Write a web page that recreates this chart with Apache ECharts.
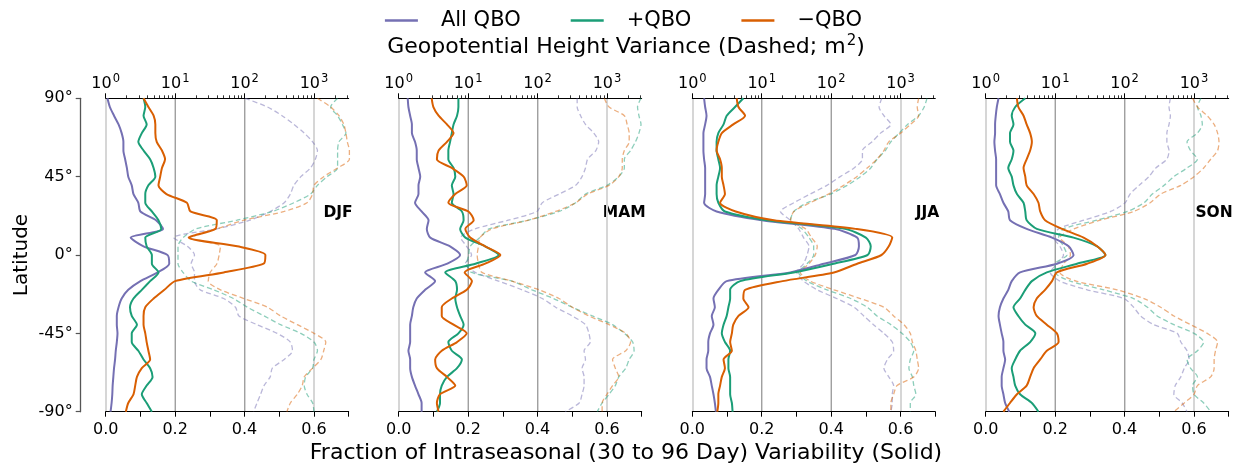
<!DOCTYPE html>
<html>
<head>
<meta charset="utf-8">
<script src="https://cdn.jsdelivr.net/npm/echarts@6/dist/echarts.min.js"></script>
<style>
  html, body { margin: 0; padding: 0; background: #ffffff; }
  #chart { width: 1247px; height: 469px; }
</style>
</head>
<body>
<div id="chart"></div>
<script>
// Latitude rows shared by every profile (degrees, north to south)
const latitudes = [90,85,80,75,70,65,60,55,50,45,40,35,30,25,20,15,10,5,0,-5,-10,-15,-20,-25,-30,-35,-40,-45,-50,-55,-60,-65,-70,-75,-80,-85,-90];
const seasons = ['DJF', 'MAM', 'JJA', 'SON'];
const groupNames = ['All QBO', '+QBO', '\u2212QBO'];
const groupColors = ['#7570b3', '#1b9e77', '#d95f02'];
const latTicks = [-90, -45, 0, 45, 90];
const varMajorTicks = [1, 10, 100, 1000];
const varMinorTicks = [2,3,4,5,6,7,8,9,20,30,40,50,60,70,80,90,200,300,400,500,600,700,800,900,2000,3000];

// Fraction of intraseasonal (30-96 day) variability (solid lines)
const djfAllFrac = [0.005,0.012,0.024,0.037,0.046,0.051,0.051,0.056,0.061,0.065,0.075,0.080,0.094,0.100,0.145,0.165,0.072,0.109,0.178,0.183,0.150,0.100,0.065,0.046,0.037,0.032,0.032,0.034,0.032,0.029,0.027,0.024,0.022,0.020,0.019,0.017,0.014];
const djfPosFrac = [0.109,0.114,0.109,0.118,0.104,0.094,0.109,0.128,0.138,0.143,0.123,0.114,0.114,0.133,0.152,0.160,0.114,0.118,0.133,0.133,0.152,0.128,0.104,0.080,0.070,0.075,0.090,0.075,0.075,0.094,0.109,0.128,0.135,0.118,0.104,0.118,0.133];
const djfNegFrac = [0.109,0.123,0.138,0.143,0.143,0.147,0.162,0.171,0.162,0.157,0.152,0.175,0.234,0.244,0.320,0.316,0.239,0.379,0.460,0.455,0.340,0.200,0.169,0.138,0.114,0.109,0.109,0.114,0.118,0.123,0.128,0.104,0.090,0.085,0.080,0.065,0.058];

const mamAllFrac = [0.026,0.028,0.033,0.038,0.038,0.047,0.052,0.052,0.057,0.062,0.057,0.057,0.047,0.066,0.086,0.081,0.091,0.148,0.177,0.140,0.076,0.105,0.076,0.052,0.042,0.038,0.033,0.033,0.033,0.028,0.033,0.033,0.038,0.047,0.057,0.066,0.066];
const mamPosFrac = [0.172,0.172,0.168,0.158,0.153,0.148,0.143,0.143,0.158,0.163,0.153,0.158,0.153,0.182,0.187,0.177,0.192,0.249,0.288,0.221,0.134,0.163,0.168,0.163,0.168,0.177,0.187,0.172,0.143,0.153,0.182,0.168,0.139,0.124,0.119,0.119,0.110];
const mamNegFrac = [0.095,0.100,0.115,0.139,0.158,0.139,0.115,0.110,0.153,0.187,0.196,0.163,0.143,0.201,0.216,0.192,0.206,0.249,0.293,0.249,0.190,0.211,0.196,0.153,0.124,0.124,0.158,0.196,0.168,0.124,0.105,0.110,0.139,0.163,0.119,0.110,0.115];

const jjaAllFrac = [0.034,0.037,0.041,0.037,0.032,0.032,0.032,0.034,0.037,0.037,0.037,0.037,0.034,0.070,0.200,0.410,0.475,0.480,0.470,0.379,0.282,0.099,0.075,0.061,0.065,0.056,0.061,0.051,0.046,0.046,0.041,0.041,0.051,0.056,0.061,0.065,0.068];
const jjaPosFrac = [0.147,0.123,0.099,0.090,0.075,0.070,0.070,0.075,0.080,0.075,0.070,0.070,0.075,0.094,0.215,0.440,0.500,0.514,0.505,0.407,0.292,0.138,0.109,0.109,0.104,0.099,0.090,0.085,0.094,0.109,0.104,0.104,0.109,0.109,0.109,0.114,0.116];
const jjaNegFrac = [0.128,0.133,0.152,0.118,0.085,0.075,0.070,0.080,0.085,0.085,0.090,0.094,0.080,0.125,0.235,0.470,0.576,0.566,0.545,0.475,0.408,0.260,0.152,0.147,0.162,0.133,0.118,0.114,0.109,0.114,0.090,0.094,0.085,0.080,0.075,0.075,0.072];

const sonAllFrac = [0.037,0.032,0.029,0.027,0.027,0.025,0.027,0.030,0.030,0.030,0.030,0.041,0.051,0.065,0.070,0.118,0.191,0.239,0.253,0.205,0.099,0.075,0.065,0.051,0.041,0.037,0.041,0.046,0.051,0.051,0.056,0.051,0.046,0.046,0.051,0.056,0.068];
const sonPosFrac = [0.114,0.085,0.075,0.080,0.070,0.070,0.080,0.075,0.065,0.075,0.080,0.090,0.109,0.114,0.118,0.147,0.253,0.321,0.345,0.263,0.176,0.133,0.114,0.099,0.080,0.094,0.114,0.143,0.128,0.099,0.085,0.075,0.080,0.085,0.099,0.133,0.152];
const sonNegFrac = [0.090,0.094,0.109,0.118,0.128,0.133,0.128,0.118,0.109,0.114,0.118,0.138,0.152,0.157,0.171,0.220,0.282,0.321,0.345,0.292,0.205,0.191,0.171,0.147,0.138,0.147,0.176,0.205,0.210,0.176,0.157,0.138,0.128,0.118,0.090,0.070,0.051];

// Geopotential height variance in m^2 (dashed lines, log axis)
const djfAllVar = [102,214,347,513,724,955,1122,1047,891,646,513,457,372,234,120,40,9.5,15,19,17,19,19,23,50,74,83,151,295,457,490,372,251,234,191,170,151,135];
const djfPosVar = [2188,1738,2188,2570,2884,2291,2188,2188,2188,1549,1122,891,513,251,78,20,13,11,11,11,13,17,36,69,110,191,331,646,1000,1122,1000,955,759,724,794,955,1000];
const djfNegVar = [1122,1738,2291,2692,2884,3020,3236,3236,2188,1380,1000,955,794,372,98,40,15.5,45,43,40,32,30,45,98,214,331,575,1000,1479,1380,1259,955,724,676,575,457,407];

const mamAllVar = [372,372,417,490,646,759,692,525,490,437,355,204,117,98,38,12.6,7.8,9.5,11.2,9.1,12.6,27.5,60,117,182,316,490,550,575,468,490,437,468,468,437,398,251];
const mamPosVar = [3090,2754,2884,3090,2884,2570,2188,1778,1778,1479,1000,490,355,204,74,20,14.8,10.7,10.2,9.5,11.2,42.7,83,170,316,617,1202,1778,2344,2455,2089,1862,1479,1318,1072,851,724];
const mamNegVar = [912,1072,1778,1950,2089,2089,1778,1660,1660,1479,1072,525,355,182,74,22,14.8,14.1,13.5,14.1,15.8,42.7,105,204,316,550,1072,1862,2188,1862,1202,1318,1479,1202,1000,851,851];

const jjaAllVar = [537,490,575,724,513,389,282,282,214,135,87,50,29,18.6,25.7,34,40,48,45,40,32,40,63,120,214,295,407,575,759,794,646,575,676,794,759,759,724];
const jjaPosVar = [2399,2188,1820,1259,955,724,603,457,372,263,170,98,45,29,26,38,48,56,56,45,34,45,87,191,331,457,724,1047,1380,1549,1380,1318,1479,1549,1660,1380,1380];
const jjaNegVar = [1820,1738,1820,1380,1000,676,575,457,331,234,151,91,50,29,26,43,52,63,59,48,36,50,110,263,575,794,1122,1380,1479,1660,1738,1820,1549,891,794,724,724];

const sonAllVar = [457,437,457,437,407,407,437,407,282,224,162,120,102,63,26,11.2,9.5,11.7,13.2,10.7,8.5,11.7,29,98,135,170,263,575,646,794,851,724,646,537,513,676,794];
const sonPosVar = [1259,1122,1259,1318,1122,794,891,1122,794,513,372,251,191,110,40,13.2,11.2,13.2,14.8,10,10,16.6,50,135,214,295,513,1000,1380,1122,794,891,1122,955,1000,1380,1738];
const sonNegVar = [955,1122,1549,1950,2188,2291,2188,1738,1380,1000,646,331,234,135,45,18.6,11.7,15.5,16.6,13.2,11.7,20,78,191,331,513,891,1549,2188,2042,1950,1950,1738,1122,1000,724,513];

const fracBySeason = [
  [djfAllFrac, djfPosFrac, djfNegFrac],
  [mamAllFrac, mamPosFrac, mamNegFrac],
  [jjaAllFrac, jjaPosFrac, jjaNegFrac],
  [sonAllFrac, sonPosFrac, sonNegFrac]
];
const varBySeason = [
  [djfAllVar, djfPosVar, djfNegVar],
  [mamAllVar, mamPosVar, mamNegVar],
  [jjaAllVar, jjaPosVar, jjaNegVar],
  [sonAllVar, sonPosVar, sonNegVar]
];

// ---- layout ----
const FONT = 'DejaVu Sans';
const panelLeft = [105.7, 398.7, 692.3, 985.7];
const panelTop = 98.3;
const panelWidth = 243;
const panelHeight = 313.4;
const varMax = Math.pow(10, 3.5);

const grids = [];
const xAxes = [];
const yAxes = [];
const series = [];
const graphics = [];

seasons.forEach((season, i) => {
  grids.push({ left: panelLeft[i], top: panelTop, width: panelWidth, height: panelHeight, containLabel: false });

  // bottom: linear fraction axis
  xAxes.push({
    type: 'value', gridIndex: i, position: 'bottom',
    min: 0, max: 0.7, interval: 0.1,
    axisLine: { show: true, onZero: false, lineStyle: { color: '#000', width: 1 } },
    axisTick: { show: true, length: 5, lineStyle: { color: '#000', width: 1 } },
    axisLabel: {
      fontFamily: FONT, fontSize: 16, color: '#000', margin: 10,
      formatter: v => (Math.round(v * 10) % 2 === 0 ? v.toFixed(1) : '')
    },
    splitLine: {
      show: true, showMaxLine: false,
      lineStyle: { color: ['#d6d6d6', 'rgba(0,0,0,0)'], width: 2 }
    }
  });

  // top: log variance axis with major ticks and labels
  xAxes.push({
    type: 'log', logBase: 10, gridIndex: i, position: 'top',
    min: 1, max: varMax,
    axisLine: { show: true, onZero: false, lineStyle: { color: '#000', width: 1 } },
    axisTick: { show: true, length: 5, customValues: varMajorTicks, lineStyle: { color: '#000', width: 1 } },
    axisLabel: {
      fontFamily: FONT, fontSize: 16, color: '#000', margin: 4,
      customValues: varMajorTicks,
      formatter: v => '{b|10}{e|' + Math.round(Math.log10(v)) + '}',
      rich: {
        b: { fontFamily: FONT, fontSize: 16, color: '#000' },
        e: { fontFamily: FONT, fontSize: 11.5, color: '#000', padding: [0, 0, 9, 1] }
      }
    },
    splitLine: { show: true, showMinLine: false, showMaxLine: false, lineStyle: { color: '#a0a0a0', width: 1 } }
  });

  // top: minor log ticks
  xAxes.push({
    type: 'log', logBase: 10, gridIndex: i, position: 'top',
    min: 1, max: varMax,
    axisLine: { show: false, onZero: false },
    axisTick: { show: true, length: 3, customValues: varMinorTicks, lineStyle: { color: '#000', width: 0.8 } },
    axisLabel: { show: false },
    splitLine: { show: false }
  });

  yAxes.push({
    type: 'value', gridIndex: i, min: -90, max: 90, interval: 45,
    show: i === 0, offset: 25,
    axisLine: { show: true, onZero: false, lineStyle: { color: '#555', width: 1.3 } },
    axisTick: { show: true, length: 5, lineStyle: { color: '#555', width: 1.2 } },
    axisLabel: {
      fontFamily: FONT, fontSize: 16, color: '#000', margin: 8,
      customValues: latTicks,
      formatter: v => v + '\u00b0'
    },
    splitLine: { show: false }
  });

  // dashed variance profiles
  groupNames.forEach((name, g) => {
    series.push({
      type: 'line', name: name,
      xAxisIndex: 3 * i + 1, yAxisIndex: i,
      data: varBySeason[i][g].map((v, k) => [v, latitudes[k]]),
      symbol: 'none', smooth: 0.25,
      itemStyle: { color: groupColors[g] },
      lineStyle: { color: groupColors[g], width: 1.3, type: [5, 3], opacity: 0.5 },
      z: 2, silent: true, animation: false
    });
  });
  // solid fraction profiles
  groupNames.forEach((name, g) => {
    series.push({
      type: 'line', name: name,
      xAxisIndex: 3 * i, yAxisIndex: i,
      data: fracBySeason[i][g].map((v, k) => [v, latitudes[k]]),
      symbol: 'none', smooth: 0.25,
      itemStyle: { color: groupColors[g] },
      lineStyle: { color: groupColors[g], width: 2 },
      z: 3, silent: true, animation: false
    });
  });

  graphics.push({
    type: 'text', x: panelLeft[i] + panelWidth + 4, y: 213,
    style: { text: season, fontFamily: FONT, fontSize: 15.5, fontWeight: 'bold', fill: '#000', align: 'right', verticalAlign: 'middle' }
  });
});

graphics.push({
  type: 'text', x: 626, y: 47,
  style: {
    text: '{t|Geopotential Height Variance (Dashed; m}{s|2}{t|)}',
    rich: {
      t: { fontFamily: FONT, fontSize: 22, fill: '#000', color: '#000' },
      s: { fontFamily: FONT, fontSize: 15, fill: '#000', color: '#000', padding: [0, 0, 11, 1] }
    },
    align: 'center', verticalAlign: 'middle'
  }
});
graphics.push({
  type: 'text', x: 626, y: 453,
  style: { text: 'Fraction of Intraseasonal (30 to 96 Day) Variability (Solid)', fontFamily: FONT, fontSize: 22, fill: '#000', align: 'center', verticalAlign: 'middle' }
});
graphics.push({
  type: 'text', x: 22, y: 255, rotation: Math.PI / 2,
  style: { text: 'Latitude', fontFamily: FONT, fontSize: 20, fill: '#000', align: 'center', verticalAlign: 'middle' }
});

const chart = echarts.init(document.getElementById('chart'), null, { renderer: 'canvas' });
chart.setOption({
  animation: false,
  backgroundColor: '#ffffff',
  legend: {
    data: groupNames.map((n, g) => ({ name: n, itemStyle: { color: groupColors[g] } })),
    left: 'center', top: 5,
    icon: 'rect', itemWidth: 33, itemHeight: 2.5, itemGap: 50,
    selectedMode: false,
    textStyle: { fontFamily: FONT, fontSize: 21, color: '#000', padding: [0, 0, 0, 18] }
  },
  grid: grids,
  xAxis: xAxes,
  yAxis: yAxes,
  series: series,
  graphic: graphics
});
</script>
</body>
</html>
